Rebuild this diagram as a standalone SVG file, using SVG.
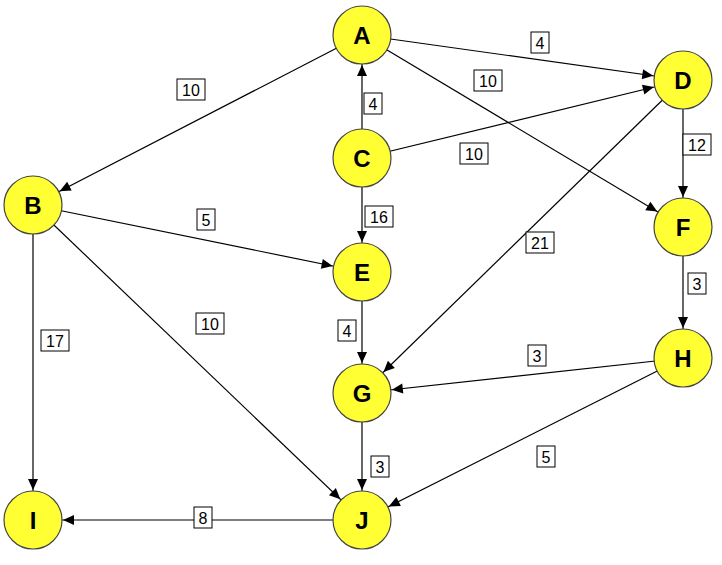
<svg xmlns="http://www.w3.org/2000/svg" width="722" height="565" viewBox="0 0 722 565">
<style>
.e{stroke:#000;stroke-width:1.2;fill:none;marker-end:url(#ah)}
.n circle{fill:#ffff33;stroke:#444;stroke-width:1.2}
.n text{font-family:"Liberation Sans",Arial,sans-serif;font-weight:bold;font-size:24px;text-anchor:middle;fill:#000}
.l rect{fill:#fff;stroke:#000;stroke-width:1}
.l text{font-family:"Liberation Sans",Arial,sans-serif;font-size:16px;text-anchor:middle;fill:#000}
</style>
<defs>
<marker id="ah" markerUnits="userSpaceOnUse" markerWidth="60" markerHeight="20" refX="0" refY="0" orient="auto" overflow="visible" viewBox="-60 -10 60 20">
<path d="M-41,-5 L-30,0 L-41,5 Z" fill="#000"/>
</marker>
</defs>
<rect width="722" height="565" fill="#fff"/>
<g id="connectors">
<line class="e" x1="362" y1="35" x2="33" y2="205"/>
<line class="e" x1="362" y1="35" x2="683" y2="80"/>
<line class="e" x1="362" y1="35" x2="683" y2="227"/>
<line class="e" x1="362" y1="158" x2="362" y2="35"/>
<line class="e" x1="362" y1="158" x2="683" y2="80"/>
<line class="e" x1="362" y1="158" x2="362" y2="272"/>
<line class="e" x1="683" y1="80" x2="683" y2="227"/>
<line class="e" x1="683" y1="80" x2="362" y2="393"/>
<line class="e" x1="33" y1="205" x2="362" y2="272"/>
<line class="e" x1="33" y1="205" x2="362" y2="520"/>
<line class="e" x1="33" y1="205" x2="33" y2="520"/>
<line class="e" x1="362" y1="272" x2="362" y2="393"/>
<line class="e" x1="683" y1="227" x2="683" y2="358"/>
<line class="e" x1="683" y1="358" x2="362" y2="393"/>
<line class="e" x1="683" y1="358" x2="362" y2="520"/>
<line class="e" x1="362" y1="393" x2="362" y2="520"/>
<line class="e" x1="362" y1="520" x2="33" y2="520"/>
</g>
<g id="labels">
<g class="l"><rect x="177" y="79" width="28" height="21"/><text x="191" y="96">10</text></g>
<g class="l"><rect x="531" y="32" width="18" height="21"/><text x="540" y="49">4</text></g>
<g class="l"><rect x="474" y="70" width="28" height="21"/><text x="488" y="87">10</text></g>
<g class="l"><rect x="364" y="93" width="18" height="21"/><text x="373" y="110">4</text></g>
<g class="l"><rect x="460" y="143" width="28" height="21"/><text x="474" y="160">10</text></g>
<g class="l"><rect x="683" y="134" width="28" height="21"/><text x="697" y="151">12</text></g>
<g class="l"><rect x="365" y="206" width="28" height="21"/><text x="379" y="223">16</text></g>
<g class="l"><rect x="197" y="209" width="18" height="21"/><text x="206" y="226">5</text></g>
<g class="l"><rect x="526" y="232" width="28" height="21"/><text x="540" y="249">21</text></g>
<g class="l"><rect x="688" y="273" width="18" height="21"/><text x="697" y="290">3</text></g>
<g class="l"><rect x="41" y="330" width="28" height="21"/><text x="55" y="347">17</text></g>
<g class="l"><rect x="196" y="313" width="28" height="21"/><text x="210" y="330">10</text></g>
<g class="l"><rect x="338" y="320" width="18" height="21"/><text x="347" y="337">4</text></g>
<g class="l"><rect x="528" y="345" width="18" height="21"/><text x="537" y="362">3</text></g>
<g class="l"><rect x="537" y="446" width="18" height="21"/><text x="546" y="463">5</text></g>
<g class="l"><rect x="371" y="456" width="18" height="21"/><text x="380" y="473">3</text></g>
<g class="l"><rect x="194" y="507" width="18" height="21"/><text x="203" y="524">8</text></g>
</g>
<g id="A" class="n"><circle cx="362" cy="35" r="29"/><text x="362" y="44">A</text></g>
<g id="B" class="n"><circle cx="33" cy="205" r="29"/><text x="33" y="214">B</text></g>
<g id="C" class="n"><circle cx="362" cy="158" r="29"/><text x="362" y="167">C</text></g>
<g id="D" class="n"><circle cx="683" cy="80" r="29"/><text x="683" y="89">D</text></g>
<g id="E" class="n"><circle cx="362" cy="272" r="29"/><text x="362" y="281">E</text></g>
<g id="F" class="n"><circle cx="683" cy="227" r="29"/><text x="683" y="236">F</text></g>
<g id="G" class="n"><circle cx="362" cy="393" r="29"/><text x="362" y="402">G</text></g>
<g id="H" class="n"><circle cx="683" cy="358" r="29"/><text x="683" y="367">H</text></g>
<g id="I" class="n"><circle cx="33" cy="520" r="29"/><text x="33" y="529">I</text></g>
<g id="J" class="n"><circle cx="362" cy="520" r="29"/><text x="362" y="529">J</text></g>
</svg>
